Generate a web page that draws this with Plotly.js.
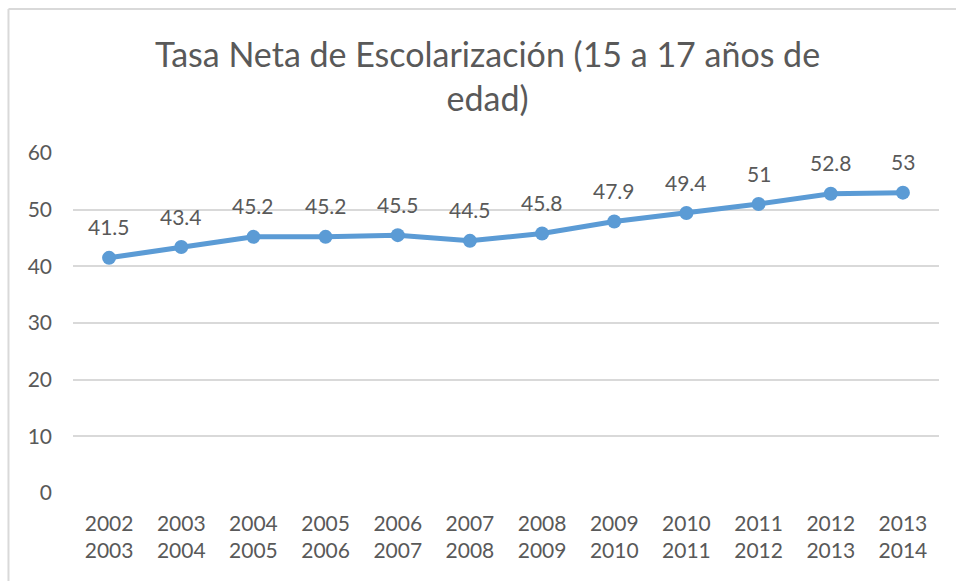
<!DOCTYPE html>
<html>
<head>
<meta charset="utf-8">
<script src="https://cdn.plot.ly/plotly-3.0.1.min.js"></script>
<style>
  html, body { margin: 0; padding: 0; background: #fff; }
  #chart { width: 956px; height: 581px; }
</style>
</head>
<body>
<div id="chart"></div>
<script>
// school years (two-line tick labels) and net enrolment rate
const periods = ['2002<br>2003', '2003<br>2004', '2004<br>2005', '2005<br>2006', '2006<br>2007', '2007<br>2008',
                 '2008<br>2009', '2009<br>2010', '2010<br>2011', '2011<br>2012', '2012<br>2013', '2013<br>2014'];
const rates = [41.5, 43.4, 45.2, 45.2, 45.5, 44.5, 45.8, 47.9, 49.4, 51, 52.8, 53];
const yTicks = [0, 10, 20, 30, 40, 50, 60];

const FONT = 'Lato, "Open Sans", sans-serif';
const TEXT = '#595959';
const BLUE = '#5B9BD5';

const trace = {
    x: periods,
    y: rates,
    type: 'scatter',
    mode: 'lines+markers',
    line: { color: BLUE, width: 5 },
    marker: { color: BLUE, size: 14 },
    hoverinfo: 'x+y'
};

// value labels sit above each point
const labels = periods.map((p, i) => ({
    x: p, y: rates[i],
    text: String(rates[i]),
    showarrow: false,
    yshift: 31,
    font: { family: FONT, size: 21, color: TEXT }
}));

const layout = {
    width: 956,
    height: 581,
    margin: { l: 73, r: 17, t: 153, b: 88 },
    paper_bgcolor: '#fff',
    plot_bgcolor: '#fff',
    font: { family: FONT, color: TEXT },
    showlegend: false,
    title: {
        text: 'Tasa Neta de Escolarización (15 a 17 años de<br>edad)',
        x: 0.51, xanchor: 'center',
        y: 0.885, yanchor: 'middle',
        font: { family: FONT, size: 34, color: TEXT }
    },
    xaxis: {
        type: 'category',
        range: [-0.5, periods.length - 0.5],
        showgrid: false,
        zeroline: false,
        showline: false,
        ticks: '',
        ticklabelstandoff: 16,
        tickfont: { family: FONT, size: 21, color: TEXT }
    },
    yaxis: {
        range: [0, 60],
        tickvals: yTicks,
        showgrid: true,
        gridcolor: '#d9d9d9',
        gridwidth: 2,
        zeroline: false,
        showline: false,
        ticks: '',
        ticklabelstandoff: 20,
        tickfont: { family: FONT, size: 21, color: TEXT }
    },
    annotations: labels,
    shapes: [
        // chart frame (cut off at right and bottom in the original)
        { type: 'line', xref: 'paper', yref: 'paper', x0: -0.0745, x1: 1.2, y0: 1.4235, y1: 1.4235,
          line: { color: '#d9d9d9', width: 2 } },
        { type: 'line', xref: 'paper', yref: 'paper', x0: -0.0745, x1: -0.0745, y0: -0.5, y1: 1.4235,
          line: { color: '#d9d9d9', width: 2 } }
    ]
};

Plotly.newPlot('chart', [trace], layout, { displayModeBar: false, staticPlot: true });
</script>
</body>
</html>
